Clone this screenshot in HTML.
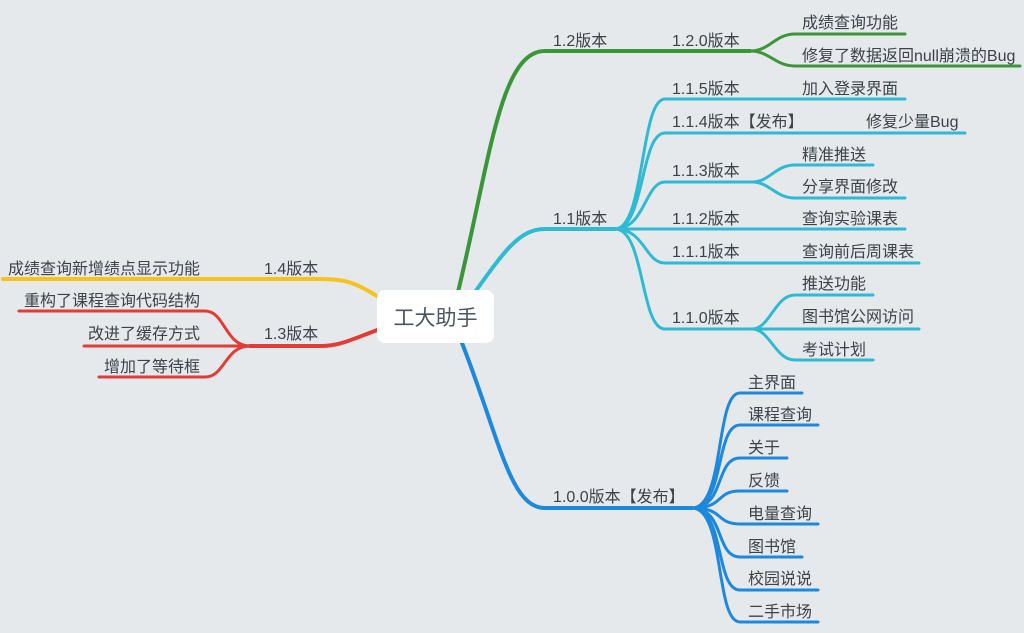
<!DOCTYPE html>
<html><head><meta charset="utf-8"><style>
html,body{margin:0;padding:0;background:#e6e9ec;}
svg{display:block;}
text{font-family:"Liberation Sans","Noto Sans CJK SC",sans-serif;font-size:16px;fill:#3c4248;}
path{fill:none;stroke-linecap:round;}
</style></head><body>
<svg width="1024" height="633" viewBox="0 0 1024 633">
<rect width="1024" height="633" fill="#e6e9ec"/>
<g stroke="#3b963a" stroke-width="4">
<path d="M458,292 C490,160 500,51 545,51 H750"/>
</g>
<g stroke="#3b963a" stroke-width="3">
<path d="M750,51 C770,51 775,34 795,34 H905"/>
<path d="M750,51 C770,51 775,66 795,66 H1020"/>
</g>
<g stroke="#2fbad3" stroke-width="4">
<path d="M475,292 C505,250 520,229 545,229 H615"/>
</g>
<g stroke="#2fbad3" stroke-width="3">
<path d="M615,229 C645,229 640,99 665,99 H905"/>
<path d="M615,229 C645,229 640,133 665,133 H965"/>
<path d="M615,229 C645,229 645,182 665,182 H752"/>
<path d="M615,229 H905"/>
<path d="M615,229 C645,229 645,263 665,263 H919"/>
<path d="M615,229 C645,229 640,329 665,329 H752"/>
<path d="M752,182 C770,182 775,165 795,165 H873"/>
<path d="M752,182 C770,182 775,198 795,198 H905"/>
<path d="M752,329 C770,329 775,295 795,295 H873"/>
<path d="M752,329 H919"/>
<path d="M752,329 C770,329 775,360 795,360 H873"/>
</g>
<g stroke="#1e88dc" stroke-width="4">
<path d="M462,343 C500,440 510,508 545,508 H692"/>
</g>
<g stroke="#1e88dc" stroke-width="3">
<path d="M692,508 C725,508 715,393 740,393 H802"/>
<path d="M692,508 C725,508 715,425 740,425 H818"/>
<path d="M692,508 C725,508 715,458 740,458 H787"/>
<path d="M692,508 C725,508 715,491 740,491 H787"/>
<path d="M692,508 C725,508 715,524 740,524 H818"/>
<path d="M692,508 C725,508 715,557 740,557 H802"/>
<path d="M692,508 C725,508 715,590 740,590 H818"/>
<path d="M692,508 C725,508 715,622 740,622 H818"/>
</g>
<path stroke="#f6c21b" stroke-width="4" d="M380,298 C355,282 345,279 320,279 H3"/>
<path stroke="#e23c36" stroke-width="4" d="M380,329 C350,340 340,346 320,346 H250"/>
<g stroke="#e23c36" stroke-width="3">
<path d="M250,346 C225,346 225,311 205,311 H19"/>
<path d="M250,346 H84"/>
<path d="M250,346 C225,346 225,377 205,377 H99"/>
</g>
<rect x="377" y="290" width="117" height="53" rx="8" fill="#fff"/>
<text x="435.5" y="325" text-anchor="middle" style="font-size:21px;fill:#4a5560">工大助手</text>
<text x="553" y="46">1.2版本</text>
<text x="672" y="46">1.2.0版本</text>
<text x="802" y="28">成绩查询功能</text>
<text x="802" y="61">修复了数据返回null崩溃的Bug</text>
<text x="553" y="224">1.1版本</text>
<text x="672" y="94">1.1.5版本</text>
<text x="672" y="127">1.1.4版本【发布】</text>
<text x="672" y="176">1.1.3版本</text>
<text x="672" y="224">1.1.2版本</text>
<text x="672" y="257">1.1.1版本</text>
<text x="672" y="323">1.1.0版本</text>
<text x="802" y="94">加入登录界面</text>
<text x="866" y="127">修复少量Bug</text>
<text x="802" y="160">精准推送</text>
<text x="802" y="192">分享界面修改</text>
<text x="802" y="224">查询实验课表</text>
<text x="802" y="257">查询前后周课表</text>
<text x="802" y="289">推送功能</text>
<text x="802" y="322">图书馆公网访问</text>
<text x="802" y="355">考试计划</text>
<text x="553" y="502">1.0.0版本【发布】</text>
<text x="748" y="388">主界面</text>
<text x="748" y="420">课程查询</text>
<text x="748" y="453">关于</text>
<text x="748" y="486">反馈</text>
<text x="748" y="519">电量查询</text>
<text x="748" y="552">图书馆</text>
<text x="748" y="584">校园说说</text>
<text x="748" y="617">二手市场</text>
<text x="264" y="274">1.4版本</text>
<text x="264" y="339">1.3版本</text>
<text x="200" y="274" text-anchor="end">成绩查询新增绩点显示功能</text>
<text x="200" y="306" text-anchor="end">重构了课程查询代码结构</text>
<text x="200" y="339" text-anchor="end">改进了缓存方式</text>
<text x="200" y="372" text-anchor="end">增加了等待框</text>
</svg>
</body></html>
